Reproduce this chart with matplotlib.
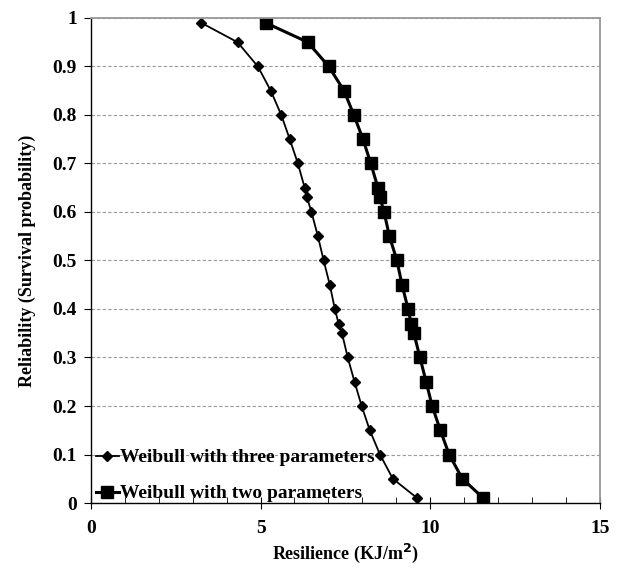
import matplotlib.pyplot as plt
from matplotlib.ticker import MultipleLocator

# reliability levels (shared by both series)
reliability = [0.99, 0.95, 0.90, 0.85, 0.80, 0.75, 0.70, 0.65, 0.63, 0.60, 0.55,
               0.50, 0.45, 0.40, 0.37, 0.35, 0.30, 0.25, 0.20, 0.15, 0.10, 0.05, 0.01]

# resilience values (KJ/m2)
three_param = [3.25, 4.32, 4.92, 5.30, 5.61, 5.86, 6.10, 6.30, 6.37, 6.50, 6.69,
               6.86, 7.04, 7.19, 7.30, 7.40, 7.57, 7.77, 7.98, 8.22, 8.52, 8.90, 9.62]
two_param = [5.15, 6.39, 7.01, 7.46, 7.75, 8.02, 8.25, 8.46, 8.52, 8.64, 8.80,
             9.02, 9.17, 9.35, 9.44, 9.52, 9.70, 9.88, 10.06, 10.30, 10.56, 10.95, 11.57]

plt.rcParams['font.family'] = ['Liberation Serif', 'DejaVu Serif']
plt.rcParams['font.weight'] = 'bold'

fig = plt.figure(figsize=(6.17, 5.68), dpi=100)
ax = fig.add_axes([0.1475, 0.1144, 0.8245, 0.854])

ax.plot(three_param, reliability, color='black', lw=1.3, marker='D', ms=5.5,
        label='Weibull with three parameters')
ax.plot(two_param, reliability, color='black', lw=2.2, marker='s', ms=9,
        label='Weibull with two parameters')

ax.set_xlim(0, 15)
ax.set_ylim(0, 1)
ax.xaxis.set_major_locator(MultipleLocator(5))
ax.xaxis.set_minor_locator(MultipleLocator(1))
ax.set_yticks([0, 0.1, 0.2, 0.3, 0.4, 0.5, 0.6, 0.7, 0.8, 0.9, 1])
ax.set_yticklabels(['0', '0.1', '0.2', '0.3', '0.4', '0.5', '0.6', '0.7', '0.8', '0.9', '1'])

ax.grid(axis='y', which='major', color='#999999', ls=(0, (3, 2)), lw=0.8)
ax.set_axisbelow(True)

for side in ['top', 'right']:
    ax.spines[side].set_color('#999999')
    ax.spines[side].set_linewidth(1.3)
for side in ['left', 'bottom']:
    ax.spines[side].set_color('black')
    ax.spines[side].set_linewidth(1.0)

ax.tick_params(axis='x', which='major', direction='inout', length=8, labelsize=14, pad=8)
ax.tick_params(axis='x', which='minor', direction='in', length=4)
ax.tick_params(axis='y', which='major', direction='out', length=5, labelsize=14, pad=5)

ax.set_xlabel('Resilience (KJ/m$^\\mathbf{2}$)', fontsize=13, fontweight='bold', labelpad=4)
ax.set_ylabel('Reliability (Survival probability)', fontsize=13, fontweight='bold', labelpad=12)

ax.legend(loc='lower left', bbox_to_anchor=(-0.025, -0.035), frameon=False,
          handlelength=1.2, handletextpad=0.05, labelspacing=0.95,
          prop={'weight': 'bold', 'size': 14})

fig.savefig('out.png', dpi=100)
